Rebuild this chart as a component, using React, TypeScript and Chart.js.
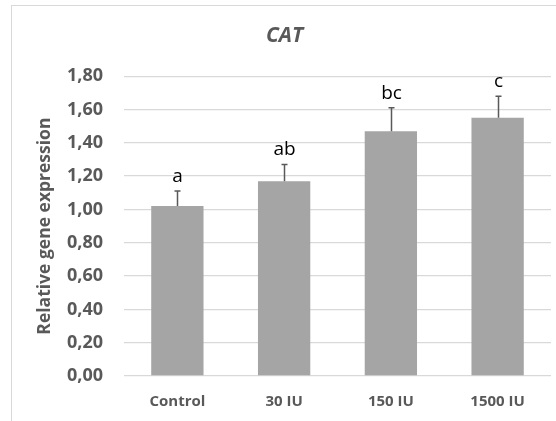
import React, { useEffect, useRef } from "react";
import { Chart, registerables } from "chart.js";

Chart.register(...registerables);

// Relative expression of CAT per treatment, with upper SD bars and group letters
const categories = ["Control", "30 IU", "150 IU", "1500 IU"];
const means = [1.02, 1.17, 1.47, 1.55];
const errors = [0.09, 0.10, 0.14, 0.13];
const letters = ["a", "ab", "bc", "c"];
const yTicks = [0, 0.2, 0.4, 0.6, 0.8, 1.0, 1.2, 1.4, 1.6, 1.8];

const GREY_TEXT = "#595959";
const FONT = "'Open Sans', sans-serif";

// Outer frame of the chart object
const framePlugin = {
  id: "frame",
  beforeDraw(chart: any) {
    const { ctx } = chart;
    ctx.save();
    ctx.fillStyle = "#ffffff";
    ctx.fillRect(0, 0, chart.width, chart.height);
    ctx.strokeStyle = "#D9D9D9";
    ctx.lineWidth = 1;
    ctx.strokeRect(11.5, 5.5, chart.width + 20, chart.height + 20);
    ctx.restore();
  },
};

// Upper error whiskers and significance letters over each bar
const errorLetterPlugin = {
  id: "errorLetters",
  afterDatasetsDraw(chart: any) {
    const { ctx } = chart;
    const x = chart.scales.x;
    const y = chart.scales.y;
    ctx.save();
    means.forEach((m, i) => {
      const cx = Math.round(x.getPixelForValue(i)) + 0.5;
      const yBase = y.getPixelForValue(m);
      const yTop = y.getPixelForValue(m + errors[i]);
      ctx.strokeStyle = "#595959";
      ctx.lineWidth = 1.5;
      ctx.beginPath();
      ctx.moveTo(cx, yBase);
      ctx.lineTo(cx, yTop);
      ctx.moveTo(cx - 3, yTop);
      ctx.lineTo(cx + 3, yTop);
      ctx.stroke();

      ctx.fillStyle = "#000000";
      ctx.font = `400 19px ${FONT}`;
      ctx.textAlign = "center";
      ctx.textBaseline = "alphabetic";
      ctx.fillText(letters[i], cx, yTop - 9);
    });
    ctx.restore();
  },
};

export default function App() {
  const canvasRef = useRef<HTMLCanvasElement | null>(null);

  useEffect(() => {
    const canvas = canvasRef.current;
    if (!canvas) return;
    const chart = new Chart(canvas, {
      type: "bar",
      data: {
        labels: categories,
        datasets: [
          {
            data: means,
            backgroundColor: "#A5A5A5",
            borderWidth: 0,
            barPercentage: 0.49,
            categoryPercentage: 1,
          },
        ],
      },
      options: {
        animation: false,
        responsive: false,
        devicePixelRatio: 1,
        layout: { padding: { left: 18, right: 5, top: 0, bottom: 0 } },
        plugins: {
          legend: { display: false },
          tooltip: { enabled: false },
          title: {
            display: true,
            text: "CAT",
            color: GREY_TEXT,
            font: { family: FONT, size: 21, weight: "bold", style: "italic", lineHeight: 1.2 },
            padding: { top: 23, bottom: 28 },
          },
        },
        scales: {
          x: {
            grid: { display: false, drawTicks: false },
            border: { display: false },
            ticks: {
              color: GREY_TEXT,
              font: { family: FONT, size: 15, weight: "bold" },
              padding: 17,
              maxRotation: 0,
            },
            afterFit(scale: any) {
              scale.height = 421 - 376;
            },
          },
          y: {
            min: 0,
            max: 1.8,
            afterBuildTicks(scale: any) {
              scale.ticks = yTicks.map((v) => ({ value: v }));
            },
            grid: { color: "#D9D9D9", lineWidth: 1.3, drawTicks: false },
            border: { display: false },
            ticks: {
              color: GREY_TEXT,
              font: { family: FONT, size: 18, weight: "bold" },
              padding: 21,
              callback: (v: any) => Number(v).toFixed(2).replace(".", ","),
            },
            title: {
              display: true,
              text: "Relative gene expression",
              color: GREY_TEXT,
              font: { family: FONT, size: 17.5, weight: "bold", lineHeight: 1.2 },
              padding: { top: 16.5, bottom: 0 },
            },
            afterFit(scale: any) {
              scale.width = 124 - 18;
            },
          },
        },
      },
      plugins: [framePlugin, errorLetterPlugin],
    });
    return () => chart.destroy();
  }, []);

  return (
    <div style={{ position: "absolute", left: 0, top: 0, width: 556, height: 421 }}>
      <canvas ref={canvasRef} width={556} height={421} style={{ display: "block" }} />
    </div>
  );
}
